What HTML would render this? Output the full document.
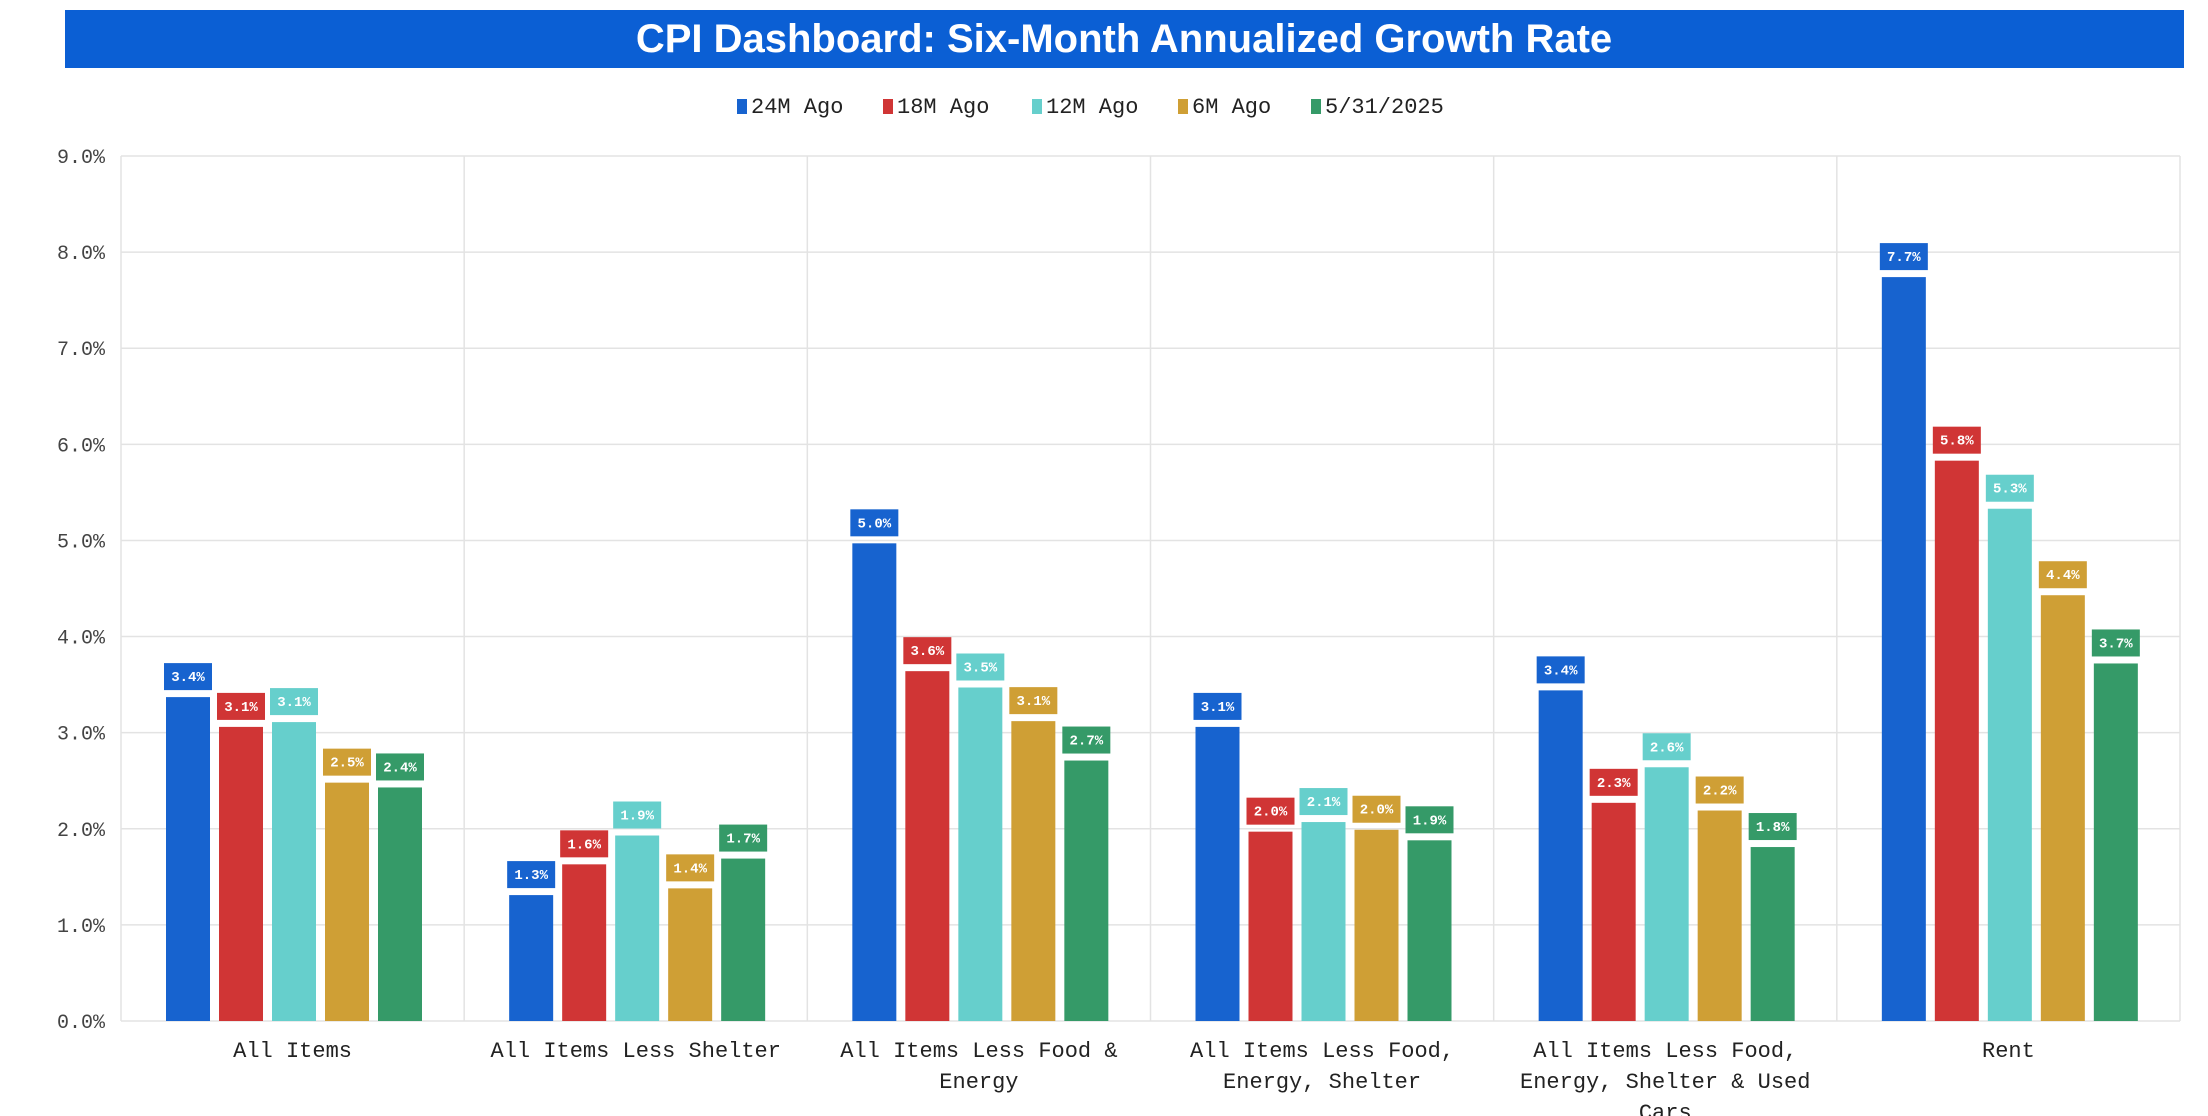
<!DOCTYPE html>
<html><head><meta charset="utf-8"><style>
html,body{margin:0;padding:0;background:#fff;width:2208px;height:1116px;overflow:hidden}
svg{display:block}
</style></head><body>
<svg id="chart" width="2208" height="1116" xmlns="http://www.w3.org/2000/svg">
<rect x="65" y="10" width="2119" height="58" fill="#0b5fd4"/>
<text x="1124" y="52" text-anchor="middle" font-family="Liberation Sans, sans-serif" font-weight="bold" font-size="40" fill="#fff">CPI Dashboard: Six-Month Annualized Growth Rate</text>
<g id="legend"></g>
<g id="grid"></g>
<g id="bars"></g>
</svg>
<script>
const categories=[["All Items"],["All Items Less Shelter"],["All Items Less Food &","Energy"],["All Items Less Food,","Energy, Shelter"],["All Items Less Food,","Energy, Shelter & Used","Cars"],["Rent"]];
const seriesNames=["24M Ago","18M Ago","12M Ago","6M Ago","5/31/2025"];
const s24=[3.37,1.31,4.97,3.06,3.44,7.74];
const s18=[3.06,1.63,3.64,1.97,2.27,5.83];
const s12=[3.11,1.93,3.47,2.07,2.64,5.33];
const s6=[2.48,1.38,3.12,1.99,2.19,4.43];
const sNow=[2.43,1.69,2.71,1.88,1.81,3.72];
const yTicks=[0,1,2,3,4,5,6,7,8,9];
const colors=["#1763cf","#d03535","#66cfcc","#cf9f35","#359a68"];
const series=[s24,s18,s12,s6,sNow];
const NS="http://www.w3.org/2000/svg";
const L=121,R=2180,T=156,B=1021,yMax=9;
const y=v=>B-(v/yMax)*(B-T);
const cw=(R-L)/categories.length;
const x=i=>L+i*cw;
function mk(tag,attrs,parent,txt){const e=document.createElementNS(NS,tag);for(const k in attrs)e.setAttribute(k,attrs[k]);if(txt!==undefined)e.textContent=txt;parent.appendChild(e);return e;}
const grid=document.getElementById('grid'),bars=document.getElementById('bars'),leg=document.getElementById('legend');
const mono="Liberation Mono, DejaVu Sans Mono, monospace";
yTicks.forEach(t=>{
  const l=mk('line',{x1:L,x2:R,y1:y(t),y2:y(t),stroke:'#e3e3e3','stroke-width':1.5},grid);
  
  
  const tx=mk('text',{x:105,y:y(t)+7,'text-anchor':'end','font-family':mono,'font-size':20,fill:'#444'},grid,t.toFixed(1)+'%');
  
  
});
for(let i=0;i<=categories.length;i++){
  const l=mk('line',{x1:x(i),x2:x(i),y1:T,y2:B,stroke:'#e3e3e3','stroke-width':1.5},grid);
  
  
}
const bw=44,step=53,off=45;
categories.forEach((c,ci)=>{
  series.forEach((s,si)=>{
    const v=s[ci],bx=x(ci)+off+si*step,by=y(v);
    const r=mk('rect',{x:bx,y:by,width:bw,height:B-by,fill:colors[si]},bars);
    
    
    const lb=mk('rect',{x:bx-2,y:by-34,width:bw+4,height:27,fill:colors[si]},bars);
    
    
    const lt=mk('text',{x:bx+bw/2,y:by-16,'text-anchor':'middle','font-family':mono,'font-size':14,'font-weight':'bold',fill:'#fff'},bars,v.toFixed(1)+'%');
    
    
  });
  c.forEach((line,li)=>{
    const t=mk('text',{x:x(ci)+cw/2,y:1057+li*31,'text-anchor':'middle','font-family':mono,'font-size':22,fill:'#222'},grid,line);
    
    
  });
});
const lx=[737,883,1032,1178,1311];
seriesNames.forEach((n,i)=>{
  const sw=mk('rect',{x:lx[i],y:99,width:10,height:15,fill:colors[i]},leg);
  
  
  const t=mk('text',{x:lx[i]+14,y:113,'font-family':mono,'font-size':22,fill:'#222'},leg,n);
  
  
});
</script>
</body></html>
